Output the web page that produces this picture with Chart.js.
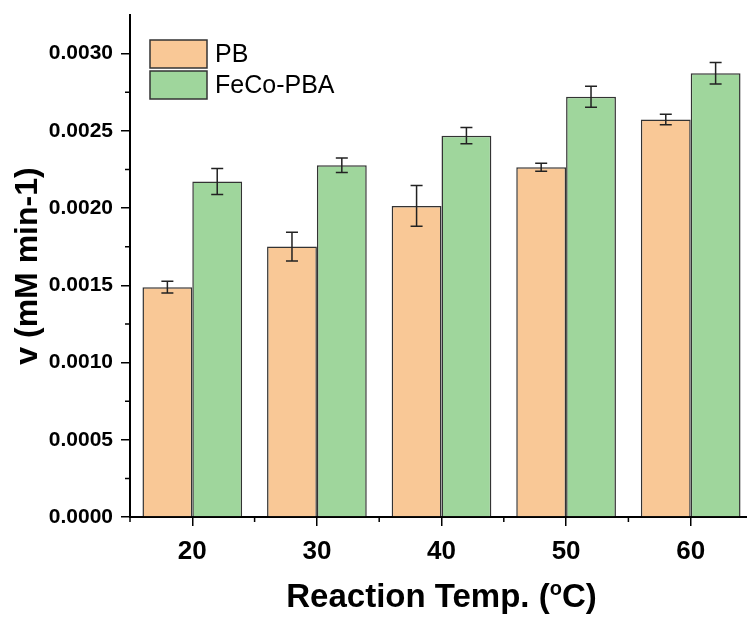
<!DOCTYPE html>
<html>
<head>
<meta charset="utf-8">
<script src="https://cdn.jsdelivr.net/npm/chart.js@4.4.1/dist/chart.umd.min.js"></script>
<style>
  html, body { margin: 0; padding: 0; background: #fff; overflow: hidden; }
  #wrap { width: 753px; height: 618px; }
</style>
</head>
<body>
<div id="wrap"><canvas id="rateChart" width="753" height="618"></canvas></div>
<script>
const temps = ['20', '30', '40', '50', '60'];
const pb = [0.001488, 0.001751, 0.002014, 0.002265, 0.002573];
const pb_err = [0.000038, 0.000093, 0.000132, 0.000026, 0.000034];
const feco = [0.002172, 0.002278, 0.002469, 0.00272, 0.002873];
const feco_err = [0.000084, 0.000047, 0.000053, 0.000068, 0.00007];
const yTicks = [0, 0.0005, 0.001, 0.0015, 0.002, 0.0025, 0.003];
const yMinor = [0.00025, 0.00075, 0.00125, 0.00175, 0.00225, 0.00275];

const FONT = "'Liberation Sans', Arial, sans-serif";
const orange = 'rgb(249,200,150)';
const green = 'rgb(159,214,156)';
const edge = '#333';

// error bars on top of each bar
const errorBars = {
    id: 'errorBars',
    afterDatasetsDraw(chart) {
        const ctx = chart.ctx;
        const y = chart.scales.y;
        const errs = [pb_err, feco_err];
        ctx.save();
        ctx.strokeStyle = '#222';
        ctx.lineWidth = 1.5;
        chart.data.datasets.forEach((ds, di) => {
            chart.getDatasetMeta(di).data.forEach((bar, i) => {
                const v = ds.data[i], e = errs[di][i];
                const top = y.getPixelForValue(v + e);
                const bot = y.getPixelForValue(v - e);
                ctx.beginPath();
                ctx.moveTo(bar.x, top); ctx.lineTo(bar.x, bot);
                ctx.moveTo(bar.x - 6, top); ctx.lineTo(bar.x + 6, top);
                ctx.moveTo(bar.x - 6, bot); ctx.lineTo(bar.x + 6, bot);
                ctx.stroke();
            });
        });
        ctx.restore();
    }
};

// minor ticks, legend and x title with superscript
const extras = {
    id: 'extras',
    afterDraw(chart) {
        const ctx = chart.ctx;
        const area = chart.chartArea;
        const y = chart.scales.y;
        ctx.save();
        ctx.strokeStyle = '#000';
        ctx.lineWidth = 1.5;
        ctx.beginPath();
        yMinor.forEach(v => {
            const py = y.getPixelForValue(v);
            ctx.moveTo(area.left - 5, py); ctx.lineTo(area.left, py);
        });
        const step = (area.right - area.left) / temps.length;
        for (let k = 0; k <= temps.length; k++) {
            const px = area.left + k * step;
            ctx.moveTo(px, area.bottom); ctx.lineTo(px, area.bottom + 5);
        }
        ctx.stroke();

        // legend
        const items = [['PB', orange, 40], ['FeCo-PBA', green, 71]];
        ctx.font = '25px ' + FONT;
        ctx.textBaseline = 'middle';
        ctx.textAlign = 'left';
        items.forEach(([label, col, top]) => {
            ctx.fillStyle = col;
            ctx.fillRect(150, top, 57, 28);
            ctx.strokeStyle = edge;
            ctx.strokeRect(150, top, 57, 28);
            ctx.fillStyle = '#000';
            ctx.fillText(label, 215, top + 15);
        });

        // x axis title
        const big = 'bold 33px ' + FONT;
        const small = 'bold 20px ' + FONT;
        const a = 'Reaction Temp. (', s = 'o', b = 'C)';
        ctx.font = big;
        const wa = ctx.measureText(a).width, wb = ctx.measureText(b).width;
        ctx.font = small;
        const ws = ctx.measureText(s).width;
        let x0 = (area.left + area.right) / 2 - (wa + ws + wb) / 2;
        const base = 607;
        ctx.textBaseline = 'alphabetic';
        ctx.fillStyle = '#000';
        ctx.font = big;
        ctx.fillText(a, x0, base);
        ctx.font = small;
        ctx.fillText(s, x0 + wa, base - 12);
        ctx.font = big;
        ctx.fillText(b, x0 + wa + ws, base);
        ctx.restore();
    }
};

const ctx = document.getElementById('rateChart').getContext('2d');

const rateChart = new Chart(ctx, {
    type: 'bar',
    data: {
        labels: temps,
        datasets: [{
            label: 'PB',
            data: pb,
            backgroundColor: orange,
            borderColor: edge,
            borderWidth: 1.5,
            categoryPercentage: 0.8,
            barPercentage: 1.0
        }, {
            label: 'FeCo-PBA',
            data: feco,
            backgroundColor: green,
            borderColor: edge,
            borderWidth: 1.5,
            categoryPercentage: 0.8,
            barPercentage: 1.0
        }]
    },
    options: {
        responsive: false,
        animation: false,
        layout: { padding: { top: 15, left: 0, right: 0, bottom: 0 } },
        plugins: {
            legend: { display: false },
            tooltip: { enabled: false }
        },
        scales: {
            x: {
                type: 'category',
                offset: true,
                afterFit: s => { s.height = 101; s.paddingLeft = 0; s.paddingRight = 0; },
                border: { display: true, color: '#000', width: 2 },
                grid: {
                    offset: false,
                    drawOnChartArea: false,
                    color: '#000',
                    lineWidth: 1.5,
                    tickLength: 9
                },
                ticks: {
                    color: '#000',
                    padding: 10,
                    font: { family: FONT, size: 26, weight: 'bold' }
                }
            },
            y: {
                min: 0,
                max: 0.00325,
                afterFit: s => { s.width = 130; s.paddingTop = 0; s.paddingBottom = 0; },
                afterBuildTicks: s => { s.ticks = yTicks.map(v => ({ value: v })); },
                border: { display: true, color: '#000', width: 2 },
                grid: {
                    drawOnChartArea: false,
                    color: '#000',
                    lineWidth: 1.5,
                    tickLength: 9
                },
                ticks: {
                    color: '#000',
                    padding: 8,
                    font: { family: FONT, size: 21, weight: 'bold' },
                    callback: v => Number(v).toFixed(4)
                },
                title: {
                    display: true,
                    text: 'v (mM min-1)',
                    color: '#000',
                    padding: { top: 9, bottom: 0 },
                    font: { family: FONT, size: 32, weight: 'bold' }
                }
            }
        }
    },
    plugins: [errorBars, extras]
});
</script>
</body>
</html>
